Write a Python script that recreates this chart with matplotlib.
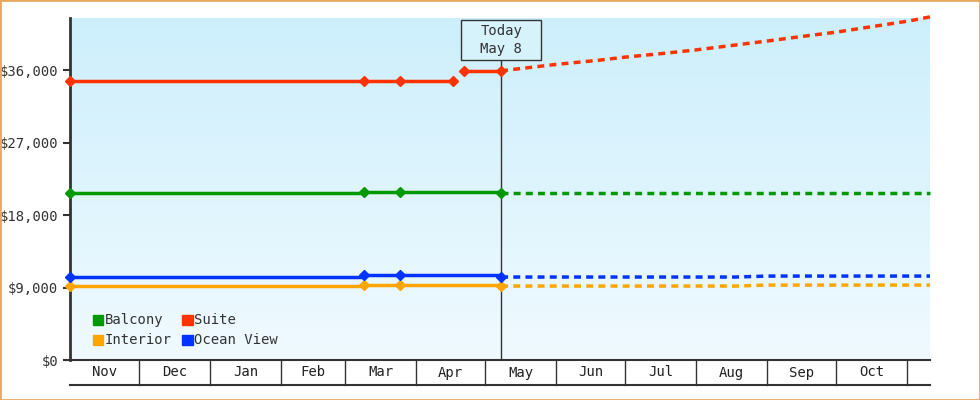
import matplotlib
matplotlib.use("Agg")
import matplotlib.pyplot as plt
import numpy as np
from matplotlib.patches import Rectangle
from matplotlib.colors import LinearSegmentedColormap

# days since Nov 1
month_labels = ["Nov","Dec","Jan","Feb","Mar","Apr","May","Jun","Jul","Aug","Sep","Oct"]
month_starts = [0,30,61,92,120,151,181,212,242,273,304,334,365]
today = 188

hist_days = [0, 128, 144, 188]
balcony_hist = [20700, 20800, 20800, 20700]
interior_hist = [9180, 9370, 9370, 9180]
ocean_hist = [10300, 10550, 10550, 10300]
suite_hist_a_days = [0, 128, 144, 167]
suite_hist_a = [34600, 34700, 34700, 34600]
suite_hist_b_days = [172, 188]
suite_hist_b = [35900, 35900]

fc_days = [188, 200, 212, 230, 242, 260, 273, 290, 304, 320, 334, 350, 366, 375]
suite_fc = [35900, 36300, 36700, 37200, 37600, 38100, 38500, 39100, 39600, 40200, 40700, 41400, 42100, 42600]
balcony_fc = [20700]*14
ocean_fc = [10300]*8 + [10420]*6
interior_fc = [9180]*8 + [9300]*6

colors = {"Balcony": "#009900", "Suite": "#ff3300", "Interior": "#ffa500", "Ocean View": "#0033ff"}
yticks = [0, 9000, 18000, 27000, 36000]

plt.rcParams['font.family'] = ['DejaVu Sans Mono']
fig = plt.figure(figsize=(9.8, 4), dpi=100)
fig.patches.append(Rectangle((0, 0), 1, 1, transform=fig.transFigure, fill=False,
                             edgecolor="#e8a860", lw=2))
ax = fig.add_axes([70/980, 40/400, 860/980, 342/400])
xmax = 375
ymax = 42460
ax.set_xlim(0, xmax)
ax.set_ylim(0, ymax)
grad = np.linspace(0, 1, 256).reshape(-1, 1)
cmap = LinearSegmentedColormap.from_list("g", ["#f0faff", "#cdeffc"])
ax.imshow(grad, extent=[0, xmax, 0, ymax], origin="lower", aspect="auto", cmap=cmap, zorder=0)

def hist(d, v, c):
    # flat segments: each value holds from its point to the next point
    xs, ys = [], []
    for i in range(len(d) - 1):
        xs += [d[i], d[i+1]]
        ys += [v[i], v[i]]
    ax.plot(xs, ys, color=c, lw=2.5, zorder=3, clip_on=False)
    ax.plot(d, v, ls="none", color=c, marker="D", ms=5.5, zorder=3, clip_on=False)
def fc(d, v, c):
    ax.plot(d, v, color=c, lw=2.5, ls=(0, (2, 1.5)), zorder=3, clip_on=False)

hist(hist_days, balcony_hist, colors["Balcony"])
hist(hist_days, interior_hist, colors["Interior"])
hist(hist_days, ocean_hist, colors["Ocean View"])
hist(suite_hist_a_days, suite_hist_a, colors["Suite"])
hist(suite_hist_b_days, suite_hist_b, colors["Suite"])
fc(fc_days, suite_fc, colors["Suite"])
fc(fc_days, balcony_fc, colors["Balcony"])
fc(fc_days, ocean_fc, colors["Ocean View"])
fc(fc_days, interior_fc, colors["Interior"])

for s in ["top", "right", "bottom"]:
    ax.spines[s].set_visible(False)
ax.spines["left"].set_linewidth(2)
ax.spines["left"].set_color("#333333")
ax.set_yticks(yticks)
ax.set_yticklabels([f"${v:,}" for v in yticks], fontsize=10, color="#333333")
ax.tick_params(axis="y", length=5, width=1.5, color="#333333")
ax.set_xticks([])

# today line and box
box_bot, box_top = 37240, 42200
ax.plot([today, today], [0, box_bot], color="#333333", lw=1, zorder=2)
ax.add_patch(Rectangle((170.5, box_bot), 35, box_top - box_bot, fc="#d6f2fb", ec="#333333", lw=1, zorder=5))
ax.text(today, (box_bot + box_top) / 2, "Today\nMay 8", ha="center", va="center", fontsize=10,
        color="#333333", linespacing=1.4, zorder=6)

# month cells
trans = ax.get_xaxis_transform()
ax.plot([0, xmax], [0, 0], color="#333333", lw=1.5, transform=trans, clip_on=False)
ax.plot([0, xmax], [-25/342, -25/342], color="#333333", lw=1.5, transform=trans, clip_on=False)
for m in month_starts[1:]:
    ax.plot([m, m], [0, -25/342], color="#333333", lw=1, transform=trans, clip_on=False)
for i, lab in enumerate(month_labels):
    ax.text((month_starts[i] + month_starts[i+1]) / 2, -12.5/342, lab, ha="center", va="center",
            fontsize=10, color="#222222", transform=trans)

# legend
leg_items = [("Balcony", 10, 4960), ("Suite", 49, 4960), ("Interior", 10, 2480), ("Ocean View", 49, 2480)]
for name, x, y in leg_items:
    ax.add_patch(Rectangle((x, y - 620), 4.5, 1240, color=colors[name], zorder=4))
    ax.text(x + 5.0, y, name, va="center", ha="left", fontsize=10, color="#333333", zorder=4)

fig.savefig("out.png", dpi=100)
